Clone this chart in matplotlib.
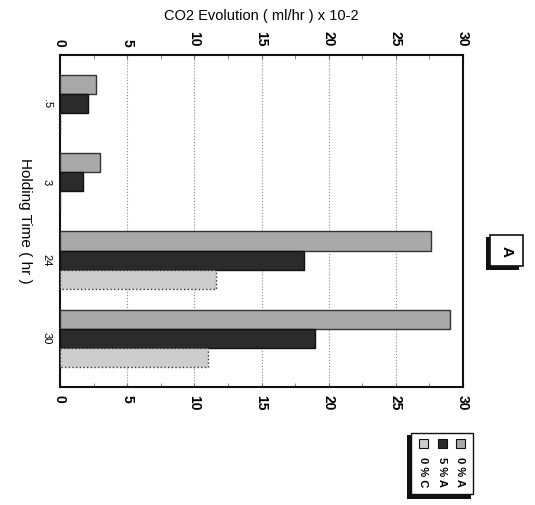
import matplotlib
matplotlib.use("Agg")
import matplotlib.pyplot as plt
from matplotlib.patches import Rectangle
import numpy as np

categories = [".5", "3", "24", "30"]
series_names = ["0 % A", "5 % A", "0 % C"]
vals_0A = [2.7, 2.95, 27.6, 29.0]
vals_5A = [2.1, 1.7, 18.2, 19.0]
vals_0C = [0.0, 0.0, 11.6, 11.0]
xticks = [0, 5, 10, 15, 20, 25, 30]
title = "CO2 Evolution ( ml/hr ) x 10-2"
cat_label = "Holding Time ( hr )"
panel = "A"

colors = ["#a9a9a9", "#2b2b2b", "#cdcdcd"]
edges = ["#333333", "#111111", "#333333"]
styles = ["-", "-", ":"]

plt.rcParams['font.family'] = ['Liberation Sans', 'DejaVu Sans']
W, H = 535, 505
fig = plt.figure(figsize=(W / 100, H / 100), dpi=100)
ax = fig.add_axes([60 / W, 1 - 387 / H, (463 - 60) / W, (387 - 55) / H])

y = np.arange(len(categories))
bw = 0.245
for i, (vals, c, e, ls) in enumerate(zip([vals_0A, vals_5A, vals_0C], colors, edges, styles)):
    ax.barh(y + (i - 1) * bw, vals, height=bw, color=c, edgecolor=e,
            linewidth=1.0, linestyle=ls, zorder=3)

ax.set_xlim(0, 30)
ax.set_ylim(3.62, -0.62)
ax.set_xticks(xticks)
ax.set_xticklabels([str(t) for t in xticks], rotation=-90, fontsize=10, fontweight='bold')
ax.set_xticks(np.arange(0, 30.1, 2.5), minor=True)
ax.set_yticks(y)
ax.set_yticklabels(categories, rotation=-90, fontsize=8, va='center')
ax.tick_params(axis='x', which='both', direction='in', top=True, labeltop=True,
               bottom=True, labelbottom=True, length=3, color='#777777', pad=6)
ax.tick_params(axis='y', length=0, pad=6)
ax.xaxis.grid(True, which='major', linestyle=':', color='#888888', linewidth=0.8, zorder=0)
for s in ax.spines.values():
    s.set_linewidth(1.5)
    s.set_color('#111111')

ax.set_ylabel(cat_label, rotation=-90, fontsize=11, labelpad=12, va='center')
fig.text(261 / W, 1 - 16 / H, title, ha='center', va='center', fontsize=10.5)

# Panel box "A"
fig.patches.append(Rectangle((486 / W, 1 - 270 / H), 33 / W, 33 / H, transform=fig.transFigure,
                             facecolor='#111111', edgecolor='none'))
fig.patches.append(Rectangle((490 / W, 1 - 266 / H), 33 / W, 31 / H, transform=fig.transFigure,
                             facecolor='white', edgecolor='#111111', linewidth=1.2))
fig.text(506.5 / W, 1 - 251 / H, panel, rotation=-90, ha='center', va='center', fontsize=11,
         fontweight='bold')

# Legend (rotated)
fig.patches.append(Rectangle((407 / W, 1 - 499 / H), 64 / W, 64 / H, transform=fig.transFigure,
                             facecolor='#111111', edgecolor='none'))
fig.patches.append(Rectangle((411 / W, 1 - 494 / H), 62 / W, 61 / H, transform=fig.transFigure,
                             facecolor='white', edgecolor='#111111', linewidth=1))
col_x = [460, 442, 423]
for name, c, e, cx in zip(series_names, colors, edges, col_x):
    fig.patches.append(Rectangle(((cx - 4.5) / W, 1 - 448 / H), 9 / W, 9 / H,
                                 transform=fig.transFigure, facecolor=c, edgecolor='#111111',
                                 linewidth=0.8))
    fig.text(cx / W, 1 - 472 / H, name, rotation=-90, ha='center', va='center', fontsize=8,
             fontweight='bold')

fig.savefig("out.png", dpi=100)
